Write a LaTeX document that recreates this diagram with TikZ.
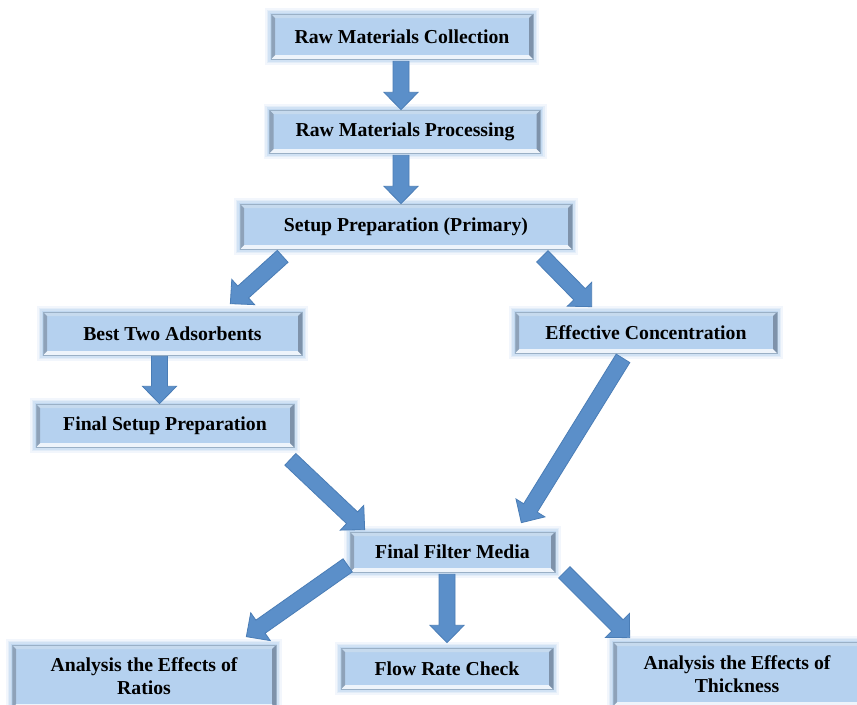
\documentclass[tikz,border=0pt]{standalone}
\usepackage{fontspec}
\setmainfont{Liberation Serif}
\usetikzlibrary{calc}
\definecolor{face}{HTML}{B5D1EF}
\definecolor{edge}{HTML}{9AB0C6}
\definecolor{bvtop}{HTML}{C6DAEE}
\definecolor{bvbot}{HTML}{EEF4FB}
\definecolor{bvleft}{HTML}{8EA2B9}
\definecolor{bvright}{HTML}{7E92AA}
\definecolor{glow}{HTML}{A9C9EC}
\definecolor{arrfill}{HTML}{5B8FC9}
\definecolor{arrline}{HTML}{4A7DB6}
\def\asw{6pt}\def\ahw{12.75pt}\def\ahl{13pt}
\newcommand\blkarrow[2]{%
  \filldraw[barrow] let \p1=(#1), \p2=(#2),
    \n1={veclen(\x2-\x1,\y2-\y1)},
    \n2={(\x2-\x1)/\n1}, \n3={(\y2-\y1)/\n1}
  in ({\x1-\asw*(\n3)},{\y1+\asw*(\n2)})
  -- ({\x2-\ahl*(\n2)-\asw*(\n3)},{\y2-\ahl*(\n3)+\asw*(\n2)})
  -- ({\x2-\ahl*(\n2)-\ahw*(\n3)},{\y2-\ahl*(\n3)+\ahw*(\n2)})
  -- (\p2)
  -- ({\x2-\ahl*(\n2)+\ahw*(\n3)},{\y2-\ahl*(\n3)-\ahw*(\n2)})
  -- ({\x2-\ahl*(\n2)+\asw*(\n3)},{\y2-\ahl*(\n3)-\asw*(\n2)})
  -- ({\x1+\asw*(\n3)},{\y1-\asw*(\n2)}) -- cycle;}
\tikzset{
  barrow/.style={fill=arrfill, draw=arrline, line width=0.6pt, line join=miter},
  pbox/.style 2 args={rectangle, minimum width=#1*0.75pt, minimum height=#2*0.75pt,
    inner sep=0pt, fill=face, draw=edge, line width=0.5pt, align=center,
    font=\bfseries\fontsize{14.8}{17.3}\selectfont,
    preaction={draw=glow, line width=9pt, opacity=0.15, rounded corners=4pt},
    preaction={draw=glow, line width=6.5pt, opacity=0.2, rounded corners=3pt},
    preaction={draw=glow, line width=4pt, opacity=0.3, rounded corners=2pt},
    preaction={draw=glow, line width=2pt, opacity=0.4},
    path picture={
      \def\bb{path picture bounding box}
      \fill[bvtop] (\bb.north west) -- (\bb.north east) -- ([xshift=-3pt,yshift=-3pt]\bb.north east) -- ([xshift=3pt,yshift=-3pt]\bb.north west) -- cycle;
      \fill[bvbot] (\bb.south west) -- (\bb.south east) -- ([xshift=-3pt,yshift=3pt]\bb.south east) -- ([xshift=3pt,yshift=3pt]\bb.south west) -- cycle;
      \fill[bvleft] (\bb.south west) -- (\bb.north west) -- ([xshift=3pt,yshift=-3pt]\bb.north west) -- ([xshift=3pt,yshift=3pt]\bb.south west) -- cycle;
      \fill[bvright] (\bb.south east) -- (\bb.north east) -- ([xshift=-3pt,yshift=-3pt]\bb.north east) -- ([xshift=-3pt,yshift=3pt]\bb.south east) -- cycle;
    }}
}
\begin{document}
\begin{tikzpicture}[x=0.75pt,y=-0.75pt]
\clip (0,0) rectangle (857,704);
\fill[white] (0,0) rectangle (857,704);
\node[pbox={262}{45}] (rmc) at (402,36.5) {Raw Materials Collection};
\node[pbox={271}{43}] (rmp) at (405,131.5) {Raw Materials Processing};
\node[pbox={332}{45}] (spp) at (406,226.5) {Setup Preparation (Primary)};
\node[pbox={259}{43}] (bta) at (172.5,333.5) {Best Two Adsorbents};
\node[pbox={262}{41}] (ec) at (646,332.5) {Effective Concentration};
\node[pbox={258}{43}] (fsp) at (165,425.5) {Final Setup Preparation};
\node[pbox={205}{40}] (ffm) at (452.5,552) {Final Filter Media};
\node[pbox={264}{63}] (ar) at (144,676.5) {Analysis the Effects of\\Ratios};
\node[pbox={212}{41}] (frc) at (447,668.5) {Flow Rate Check};
\node[pbox={248}{64}] (at) at (737,674) {Analysis the Effects of\\Thickness};
\coordinate (a1s) at ($(rmc.south)+(-1,2)$);
\coordinate (a2s) at ($(a1s |- rmp.south)+(0,2)$);
\coordinate (a5s) at ($(bta.south)+(-13,1)$);
\coordinate (a9s) at ($(frc.north |- ffm.south)+(0,2)$);
\blkarrow{a1s}{a1s |- rmp.north}
\blkarrow{a2s}{a1s |- spp.north}
\blkarrow{$(spp.south west)+(43,7)$}{$(bta.north east)+(-72,-8)$}
\blkarrow{$(spp.south east)+(-30,7)$}{$(ec.north west)+(77,-5)$}
\blkarrow{a5s}{a5s |- fsp.north}
\blkarrow{$(ec.south)+(-23,5)$}{$(ffm.north east)+(-34,-9)$}
\blkarrow{$(fsp.south east)+(-4,12)$}{$(ffm.north west)+(15,-2)$}
\blkarrow{$(ffm.south west)+(-2,-7)$}{$(ar.north east)+(-30,-8)$}
\blkarrow{a9s}{$(frc.north)+(0,-5)$}
\blkarrow{$(ffm.south east)+(9,0)$}{$(at.north west)+(17,-4)$}
\end{tikzpicture}
\end{document}
